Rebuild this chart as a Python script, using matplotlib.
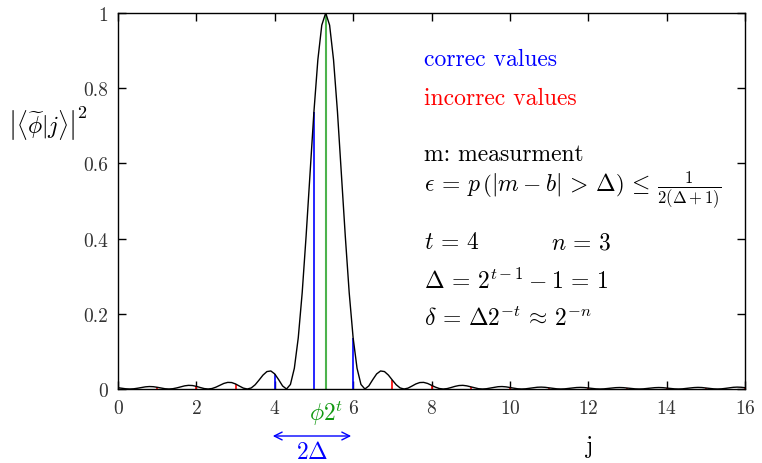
import matplotlib
matplotlib.use("Agg")
import matplotlib.pyplot as plt

plt.rcParams['font.family'] = 'serif'
plt.rcParams['font.serif'] = ['cmr10', 'DejaVu Serif']
plt.rcParams['mathtext.fontset'] = 'cm'
plt.rcParams['axes.formatter.use_mathtext'] = True

# curve |<phi~|j>|^2, j = 0.0, 0.1, ..., 16.0
j_curve = [i / 10 for i in range(161)]
p_curve = [
    0.003435, 0.001856, 0.000526, 0.0, 0.000554, 0.002062, 0.004022, 0.005729, 0.006537, 0.006111,
    0.004576, 0.002503, 0.000718, 0.0, 0.000777, 0.002929, 0.005794, 0.008377, 0.009706, 0.009218,
    0.007018, 0.003906, 0.001141, 0.0, 0.001283, 0.004943, 0.009999, 0.014799, 0.017579, 0.017143,
    0.013424, 0.00770, 0.002323, 0.0, 0.002808, 0.011266, 0.02382, 0.03700, 0.04636, 0.04795,
    0.04010, 0.02476, 0.008122, 0.0, 0.01207, 0.05515, 0.1362, 0.2558, 0.4066, 0.5740,
    0.7377, 0.8756, 0.9676, 1.0, 0.9676, 0.8756, 0.7377, 0.5740, 0.4066, 0.2558,
    0.1362, 0.05515, 0.01207, 0.0, 0.008122, 0.02476, 0.04010, 0.04795, 0.04636, 0.03700,
    0.02382, 0.011266, 0.002808, 0.0, 0.002323, 0.00770, 0.013424, 0.017143, 0.017579, 0.014799,
    0.009999, 0.004943, 0.001283, 0.0, 0.001141, 0.003906, 0.007018, 0.009218, 0.009706, 0.008377,
    0.005794, 0.002929, 0.000777, 0.0, 0.000718, 0.002503, 0.004576, 0.006111, 0.006537, 0.005729,
    0.004022, 0.002062, 0.000554, 0.0, 0.000526, 0.001856, 0.003435, 0.004641, 0.005022, 0.004451,
    0.003158, 0.001636, 0.000444, 0.0, 0.000430, 0.001533, 0.002864, 0.003906, 0.004266, 0.003814,
    0.002731, 0.001427, 0.000391, 0.0, 0.000385, 0.001383, 0.002606, 0.003583, 0.003944, 0.003555,
    0.002566, 0.001352, 0.000373, 0.0, 0.000373, 0.001352, 0.002566, 0.003555, 0.003944, 0.003583,
    0.002606, 0.001383, 0.000385, 0.0, 0.000391, 0.001427, 0.002731, 0.003814, 0.004266, 0.003906,
    0.002864, 0.001533, 0.000430, 0.0, 0.000444, 0.001636, 0.003158, 0.004451, 0.005022, 0.004641,
    0.003435,
]

# stems at integer measurement results
correct_j = [4, 5, 6]
correct_p = [0.0401, 0.7377, 0.1362]
incorrect_j = [0, 1, 2, 3, 7, 8, 9, 10, 11, 12, 13, 14, 15, 16]
incorrect_p = [0.0034, 0.0046, 0.0070, 0.0134, 0.0238, 0.0100, 0.0058, 0.0040,
               0.0032, 0.0027, 0.0026, 0.0026, 0.0029, 0.0034]
phase_j = 5.3  # phi 2^t

fig = plt.figure(figsize=(7.62, 4.64), dpi=100)
ax = fig.add_axes([118 / 762, 74 / 464, 627 / 762, 376 / 464])

ax.vlines(incorrect_j, 0, incorrect_p, colors='#ff0000', lw=1.2)
ax.vlines(correct_j, 0, correct_p, colors='#0000ff', lw=1.2)
ax.vlines([phase_j], 0, [1.0], colors='#4db34d', lw=1.5)
ax.plot(j_curve, p_curve, color='black', lw=1)

ax.set_xlim(0, 16)
ax.set_ylim(0, 1)
ax.set_xticks(range(0, 17, 2))
ax.set_yticks([0, 0.2, 0.4, 0.6, 0.8, 1])
ax.set_yticklabels(['0', '0.2', '0.4', '0.6', '0.8', '1'])
ax.tick_params(direction='in', top=True, right=True, length=6, width=1,
               labelsize=14, labelcolor='#333333', pad=7)
for s in ax.spines.values():
    s.set_linewidth(1)

# y label: bars and raised exponent drawn apart
fig.text(8 / 762, 1 - 125 / 464, r'$\left|\langle\widetilde{\phi}|j\rangle\right|$',
         fontsize=17, ha='left', va='center')
fig.text(77 / 762, 1 - 113 / 464, r'$2$', fontsize=13, ha='left', va='center')
fig.text(590 / 762, 1 - 447 / 464, 'j', fontsize=17, ha='center', va='center')

# annotations
fs = 17
ax.text(7.8, 0.878, 'correc values', color='#0000ff', fontsize=fs, va='center')
ax.text(7.8, 0.774, 'incorrec values', color='#ff0000', fontsize=fs, va='center')
ax.text(7.8, 0.625, 'm: measurment', fontsize=fs, va='center')
ax.text(7.8, 0.532,
        r'$\epsilon\,=\,p\,\left(|m-b|\,>\,\Delta\right)\,\leq\,\frac{1}{2(\Delta+1)}$',
        fontsize=fs, va='center')
ax.text(7.8, 0.391, r'$t\,=\,4$', fontsize=fs, va='center')
ax.text(11.05, 0.391, r'$n\,=\,3$', fontsize=fs, va='center')
ax.text(7.8, 0.290, r'$\Delta\,=\,2^{t-1} - 1\,=\,1$', fontsize=fs, va='center')
ax.text(7.8, 0.190, r'$\delta\,=\,\Delta 2^{-t}\,\approx\,2^{-n}$', fontsize=fs, va='center')

# below the axis
trans = ax.get_xaxis_transform()
ax.text(phase_j, -0.061, r'$\phi 2^t$', color='#119911', fontsize=fs,
        ha='center', va='center', transform=trans)
ax.annotate('', xy=(3.95, -0.125), xytext=(5.95, -0.125), xycoords=trans,
            textcoords=trans, annotation_clip=False,
            arrowprops=dict(arrowstyle='<->', color='#0000ff', lw=1, mutation_scale=14,
                            shrinkA=0, shrinkB=0))
ax.text(4.95, -0.168, r'$2\Delta$', color='#0000ff', fontsize=fs,
        ha='center', va='center', transform=trans)

fig.savefig('out.png', dpi=100)
